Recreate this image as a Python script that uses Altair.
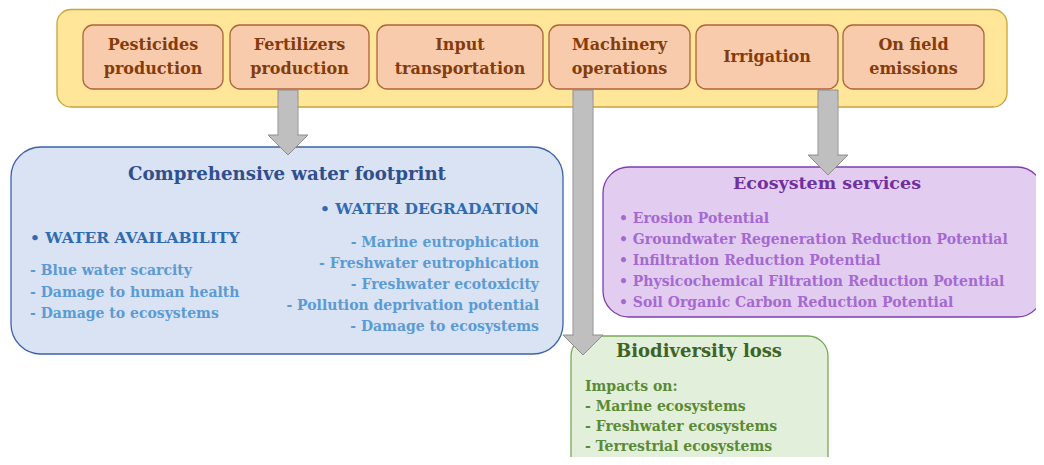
import altair as alt
import pandas as pd

# ---------------- content ----------------
stage_lines = [["Pesticides", "production"], ["Fertilizers", "production"],
               ["Input", "transportation"], ["Machinery", "operations"],
               ["Irrigation"], ["On field", "emissions"]]
water_title = "Comprehensive water footprint"
water_avail_head = "• WATER AVAILABILITY"
water_avail_items = ["- Blue water scarcity", "- Damage to human health", "- Damage to ecosystems"]
water_deg_head = "• WATER DEGRADATION"
water_deg_items = ["- Marine eutrophication", "- Freshwater eutrophication",
                   "- Freshwater ecotoxicity", "- Pollution deprivation potential",
                   "- Damage to ecosystems"]
eco_title = "Ecosystem services"
eco_items = ["• Erosion Potential", "• Groundwater Regeneration Reduction Potential",
             "• Infiltration Reduction Potential", "• Physicochemical Filtration Reduction Potential",
             "• Soil Organic Carbon Reduction Potential"]
bio_title = "Biodiversity loss"
bio_items = ["Impacts on:", "- Marine ecosystems", "- Freshwater ecosystems", "- Terrestrial ecosystems"]

# ---------------- layout (page pixels) ----------------
FONT = "DejaVu Serif"
stage_x0 = [83, 230, 377, 549, 696, 843]
stage_x1 = [223, 369, 543, 690, 838, 984]
stage_y0, stage_y1 = 25, 89

XS = alt.Scale(domain=[8, 1036], nice=False, zero=False)
YS = alt.Scale(domain=[8, 457], nice=False, zero=False, reverse=True)


def boxes(rows, radius, sw=1.3, clip=False):
    df = pd.DataFrame(rows, columns=["x0", "x1", "y0", "y1", "fill", "stroke"])
    return alt.Chart(df).mark_rect(cornerRadius=radius, strokeWidth=sw, clip=clip).encode(
        x=alt.X("x0:Q", scale=XS, axis=None), x2="x1:Q",
        y=alt.Y("y0:Q", scale=YS, axis=None), y2="y1:Q",
        fill=alt.Fill("fill:N", scale=None), stroke=alt.Stroke("stroke:N", scale=None))


def texts(rows, align):
    df = pd.DataFrame(rows, columns=["x", "y", "text", "color", "size"])
    return alt.Chart(df).mark_text(align=align, baseline="middle", font=FONT,
                                   fontWeight="bold").encode(
        x=alt.X("x:Q", scale=XS, axis=None), y=alt.Y("y:Q", scale=YS, axis=None),
        text="text:N", color=alt.Color("color:N", scale=None),
        size=alt.Size("size:Q", scale=None))


# boxes
outer = boxes([[57, 1007, 9.5, 107, "#FFE699", "#C9A43C"]], 14)
stage_boxes = boxes([[a, b, stage_y0, stage_y1, "#F8CBAD", "#AE6438"]
                     for a, b in zip(stage_x0, stage_x1)], 10)
blue = boxes([[11, 563, 147, 354, "#DAE3F3", "#3D62A8"]], 30)
purple = boxes([[603, 1043, 167, 317, "#E2CDF1", "#7E3DB0"]], 26, clip=True)
green = boxes([[571, 828, 336, 490, "#E2EFDA", "#78A85A"]], 20, clip=True)

# arrows
arrow_x = [288, 583, 828]
arrow_head_top = [135, 335, 155]
shaft_rows = [[x - 10, x + 10, 90, t + 2, "#BFBFBF", "#8E8E8E"] for x, t in zip(arrow_x, arrow_head_top)]
shafts = boxes(shaft_rows, 0, sw=1)
head_df = pd.DataFrame({"x": arrow_x, "y": [t + 10 for t in arrow_head_top]})
heads = alt.Chart(head_df).mark_point(
    shape="M-1,-0.5L1,-0.5L0,0.5Z", size=1600, filled=True, fill="#BFBFBF",
    stroke="#8E8E8E", strokeWidth=1, opacity=1).encode(
    x=alt.X("x:Q", scale=XS, axis=None), y=alt.Y("y:Q", scale=YS, axis=None))
cover_rows = [[x - 9.3, x + 9.3, 100, t + 1.5, "#BFBFBF", "#BFBFBF"] for x, t in zip(arrow_x, arrow_head_top)]
covers = boxes(cover_rows, 0, sw=0)

# texts
C_STAGE = "#843C0C"
center_rows = []
for lines, a, b in zip(stage_lines, stage_x0, stage_x1):
    cx = (a + b) / 2
    if len(lines) == 1:
        center_rows.append([cx, 57, lines[0], C_STAGE, 16])
    else:
        center_rows.append([cx, 45, lines[0], C_STAGE, 16])
        center_rows.append([cx, 69, lines[1], C_STAGE, 16])
center_rows.append([287, 175, water_title, "#2F4F8F", 18.2])
center_rows.append([827, 184, eco_title, "#7030A0", 17.5])
center_rows.append([699, 352, bio_title, "#3D6424", 18])

left_rows = [[30, 238, water_avail_head, "#2E6BB0", 15.5]]
for i, t in enumerate(water_avail_items):
    left_rows.append([30, 271 + 21.5 * i, t, "#5B9BD5", 14])
for i, t in enumerate(eco_items):
    left_rows.append([619, 219 + 21 * i, t, "#A569D2", 14])
for i, t in enumerate(bio_items):
    left_rows.append([585, 387 + 20 * i, t, "#5A8A35", 14])

right_rows = [[539, 209, water_deg_head, "#2E6BB0", 15.5]]
for i, t in enumerate(water_deg_items):
    right_rows.append([539, 243 + 21 * i, t, "#5B9BD5", 14])

chart = alt.layer(
    outer, stage_boxes, blue, purple, green, shafts, heads, covers,
    texts(center_rows, "center"), texts(left_rows, "left"), texts(right_rows, "right"),
).properties(width=1028, height=449, padding=0, autosize="none").configure_view(stroke=None)

chart.save("out.html", embed_options={"renderer": "svg", "actions": False})
